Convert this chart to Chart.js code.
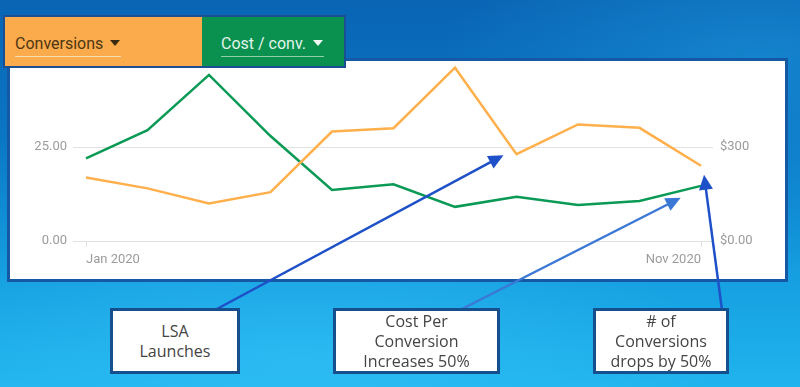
<!DOCTYPE html>
<html>
<head>
<meta charset="utf-8">
<script src="https://cdn.jsdelivr.net/npm/chart.js@4.4.0/dist/chart.umd.min.js"></script>
<style>
  html, body { margin: 0; padding: 0; }
  body {
    width: 800px; height: 387px; position: relative; overflow: hidden;
    background:
      radial-gradient(ellipse 320px 160px at 760px 60px, rgba(30,150,220,0.55), rgba(30,150,220,0) 100%),
      radial-gradient(ellipse 420px 140px at 300px 360px, rgba(60,200,250,0.45), rgba(60,200,250,0) 100%),
      linear-gradient(180deg, #0964b4 0%, #0a76c4 35%, #159ee0 70%, #20b4ee 100%);
    font-family: Roboto, sans-serif;
  }
  #panel {
    position: absolute; left: 7px; top: 58px; width: 775px; height: 218px;
    background: #fff; border: 3px solid #1558a3;
  }
  #header {
    position: absolute; left: 3px; top: 15px; width: 339px; height: 49px;
    border: 2px solid #1a4f93; display: flex;
  }
  .tab { position: relative; height: 100%; }
  .tab .lbl {
    position: absolute; top: 18px; font-size: 16px; line-height: 18px; white-space: nowrap;
  }
  .tab .line { position: absolute; top: 39px; height: 1px; }
  .tri {
    display: inline-block; width: 0; height: 0; margin-left: 7px; vertical-align: 3px;
    border-left: 5px solid transparent; border-right: 5px solid transparent;
  }
  #tabConv { width: 197px; background: #fbab4c; }
  #tabConv .lbl { left: 10px; color: #4d3714; }
  #tabConv .line { left: 10px; width: 106px; background: #f6dcb2; }
  #tabConv .tri { border-top: 6px solid #3a2a10; }
  #tabCost { width: 142px; background: #0a9150; }
  #tabCost .lbl { left: 19px; color: #e3f4ea; }
  #tabCost .line { left: 19px; width: 103px; background: #8fd0ab; }
  #tabCost .tri { border-top: 6px solid #f2fbf5; }
  canvas { position: absolute; left: 0; top: 0; }
  .note {
    position: absolute; top: 308px; height: 66px; box-sizing: border-box;
    background: #fff; border: 3px solid #154f8e;
    display: flex; align-items: center; justify-content: center; text-align: center;
    font-family: "Open Sans", sans-serif; font-size: 16px; line-height: 20px; color: #444;
  }
</style>
</head>
<body>
<div id="panel"></div>
<canvas id="myChart" width="800" height="387"></canvas>
<div id="header">
  <div class="tab" id="tabConv"><span class="lbl">Conversions<span class="tri"></span></span><div class="line"></div></div>
  <div class="tab" id="tabCost"><span class="lbl">Cost / conv.<span class="tri"></span></span><div class="line"></div></div>
</div>
<div class="note" style="left:110px; width:130px;">LSA<br>Launches</div>
<div class="note" style="left:333px; width:167px;">Cost Per<br>Conversion<br>Increases 50%</div>
<div class="note" style="left:593px; width:136px;"># of<br>Conversions<br>drops by 50%</div>
<script>
// data
const months = ['Jan 2020', 'Feb 2020', 'Mar 2020', 'Apr 2020', 'May 2020', 'Jun 2020',
  'Jul 2020', 'Aug 2020', 'Sep 2020', 'Oct 2020', 'Nov 2020'];
const conversions = [16.9, 14.0, 10.0, 13.0, 29.1, 30.0, 46.1, 23.1, 31.0, 30.1, 20.0];
const costPerConv = [264, 354, 530, 335, 163, 181, 109, 141, 115, 128, 176];
const leftTicks = [0, 25];
const rightTicks = [0, 300];

const tickFont = { family: 'Roboto', size: 13 };
const gridGrey = '#e2e2e2';

// arrows from the note boxes to the points they talk about
const arrowPlugin = {
  id: 'arrows',
  afterDraw(chart) {
    const c = chart.ctx;
    const x = chart.scales.x, yl = chart.scales.y, yr = chart.scales.y1;
    const last = months.length - 1;

    function arrow(x0, y0, x1, y1, col) {
      const a = Math.atan2(y1 - y0, x1 - x0);
      const len = 15, w = 7;
      c.save();
      c.strokeStyle = col; c.fillStyle = col; c.lineWidth = 2.5;
      c.beginPath();
      c.moveTo(x0, y0);
      c.lineTo(x1 - Math.cos(a) * len * 0.8, y1 - Math.sin(a) * len * 0.8);
      c.stroke();
      c.beginPath();
      c.moveTo(x1, y1);
      c.lineTo(x1 - Math.cos(a) * len - Math.sin(a) * w, y1 - Math.sin(a) * len + Math.cos(a) * w);
      c.lineTo(x1 - Math.cos(a) * len + Math.sin(a) * w, y1 - Math.sin(a) * len - Math.cos(a) * w);
      c.closePath();
      c.fill();
      c.restore();
    }

    // LSA launches -> Aug conversions dip
    arrow(215, 310, x.getPixelForValue(7) - 13, yl.getPixelForValue(conversions[7]) + 1, '#1e50c8');
    // cost per conversion -> late green segment
    const gx = x.getPixelForValue(9) + (x.getPixelForValue(10) - x.getPixelForValue(9)) * 0.67;
    const gy = yr.getPixelForValue(costPerConv[9]) +
      (yr.getPixelForValue(costPerConv[10]) - yr.getPixelForValue(costPerConv[9])) * 0.67 + 7;
    arrow(460, 310, gx, gy, '#3b78d6');
    // # of conversions -> Nov
    arrow(722, 310, x.getPixelForValue(last) + 3, yl.getPixelForValue(conversions[last]) + 9, '#1e50c8');
  }
};

new Chart(document.getElementById('myChart').getContext('2d'), {
  type: 'line',
  data: {
    labels: months,
    datasets: [
      {
        label: 'Conversions', data: conversions, yAxisID: 'y',
        borderColor: '#ffb04c', borderWidth: 2.5, pointRadius: 0, tension: 0, fill: false
      },
      {
        label: 'Cost / conv.', data: costPerConv, yAxisID: 'y1',
        borderColor: '#0a9a55', borderWidth: 2.5, pointRadius: 0, tension: 0, fill: false
      }
    ]
  },
  options: {
    responsive: false,
    animation: false,
    layout: { padding: { top: 53 } },
    plugins: { legend: { display: false }, tooltip: { enabled: false } },
    scales: {
      x: {
        border: { display: false },
        grid: {
          drawOnChartArea: false, tickLength: 6,
          color: ctx => (ctx.index === 0 || ctx.index === months.length - 1) ? gridGrey : 'transparent'
        },
        ticks: {
          autoSkip: false, maxRotation: 0, align: 'inner', padding: 5,
          color: '#9b9b9b', font: tickFont,
          callback: (v, i) => (i === 0 || i === months.length - 1) ? months[i] : ''
        },
        afterFit: s => { s.height = 146; }
      },
      y: {
        position: 'left', min: 0, max: 50,
        border: { display: false },
        grid: {
          tickLength: 13,
          color: ctx => leftTicks.includes(ctx.tick && ctx.tick.value) ? gridGrey : 'transparent'
        },
        ticks: {
          stepSize: 25, padding: 6, color: '#9b9b9b', font: tickFont,
          callback: v => leftTicks.includes(v) ? v.toFixed(2) : ''
        },
        afterFit: s => { s.width = 86; }
      },
      y1: {
        position: 'right', min: 0, max: 600,
        border: { display: false },
        grid: {
          drawOnChartArea: false, tickLength: 12,
          color: ctx => rightTicks.includes(ctx.tick && ctx.tick.value) ? gridGrey : 'transparent'
        },
        ticks: {
          stepSize: 300, padding: 7, color: '#9b9b9b', font: tickFont,
          callback: v => v === 0 ? '$0.00' : (rightTicks.includes(v) ? '$' + v : '')
        },
        afterFit: s => { s.width = 99; }
      }
    }
  },
  plugins: [arrowPlugin]
});
</script>
</body>
</html>
